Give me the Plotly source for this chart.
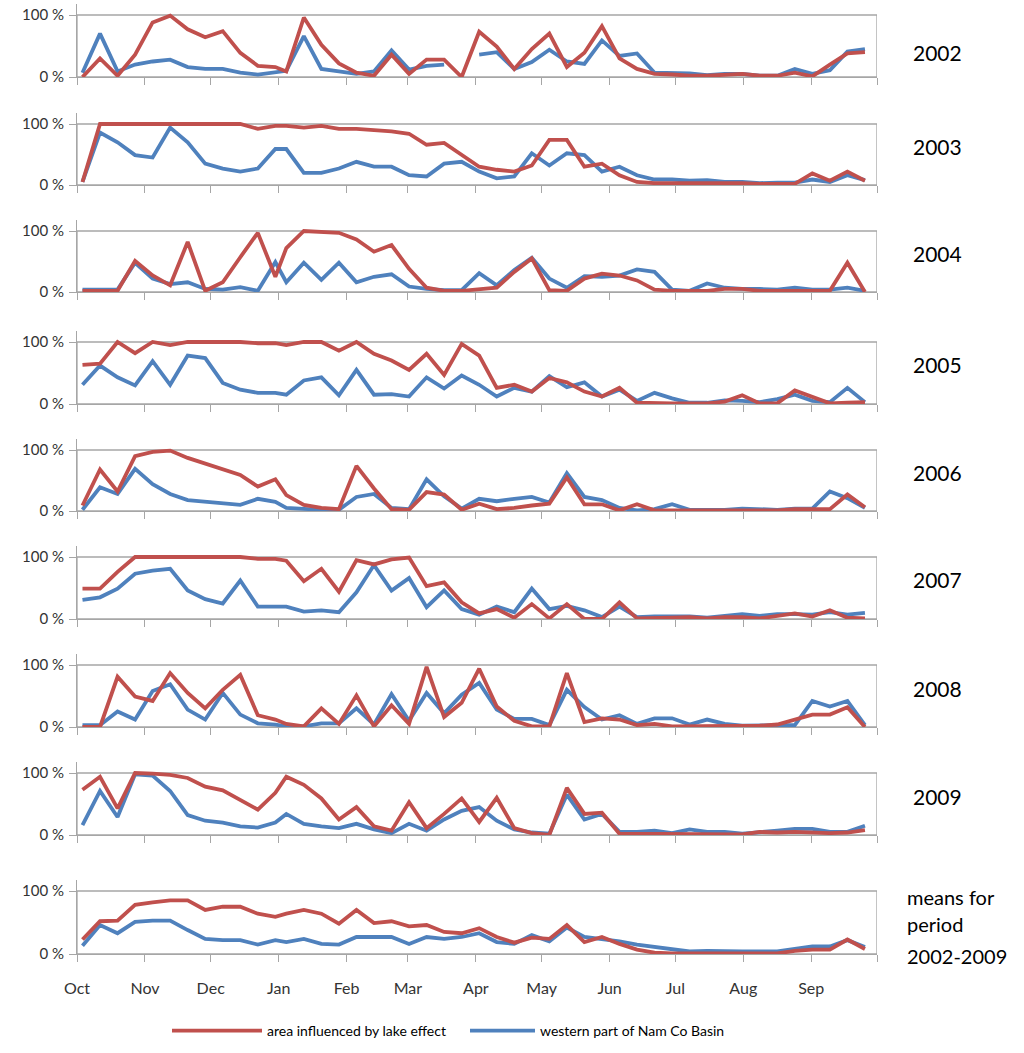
import plotly.graph_objects as go

# ---------------- data ----------------
panel_names = ["2002", "2003", "2004", "2005", "2006", "2007", "2008", "2009", "means"]

# 8-day composite start (day of year), hydrological year Oct -> Sep
composite_doy = list(range(273, 362, 8)) + list(range(1, 266, 8))

month_ticks = [0, 31, 61, 92, 123, 151, 182, 212, 243, 273, 304, 335, 365]
month_labels = ["Oct", "Nov", "Dec", "Jan", "Feb", "Mar", "Apr", "May", "Jun", "Jul", "Aug", "Sep", ""]

lake_2002 = [0.00, 0.30, 0.02, 0.36, 0.88, 0.99, 0.77, 0.64, 0.74, 0.39, 0.18, 0.16, 0.09, 0.96, 0.52, 0.22,
             0.07, 0.02, 0.36, 0.05, 0.28, 0.28, 0.00, 0.73, 0.49, 0.13, 0.45, 0.70, 0.16, 0.39, 0.82, 0.30,
             0.13, 0.05, 0.04, 0.02, 0.02, 0.03, 0.05, 0.02, 0.02, 0.07, 0.01, 0.20, 0.38, 0.40]
west_2002 = [0.07, 0.70, 0.09, 0.20, 0.25, 0.28, 0.16, 0.13, 0.13, 0.07, 0.04, 0.07, 0.10, 0.66, 0.13, 0.09,
             0.05, 0.09, 0.43, 0.12, 0.18, 0.20, None, 0.36, 0.40, 0.13, 0.24, 0.44, 0.25, 0.21, 0.59, 0.34,
             0.38, 0.07, 0.06, 0.06, 0.03, 0.05, 0.05, 0.02, 0.02, 0.13, 0.05, 0.11, 0.41, 0.45]

lake_2003 = [0.05, 1.00, 1.00, 1.00, 1.00, 1.00, 1.00, 1.00, 1.00, 1.00, 0.92, 0.97, 0.97, 0.94, 0.97, 0.92,
             0.92, 0.90, 0.88, 0.84, 0.66, 0.69, 0.49, 0.30, 0.25, 0.22, 0.32, 0.74, 0.74, 0.30, 0.35, 0.16,
             0.05, 0.03, 0.03, 0.03, 0.04, 0.03, 0.03, 0.02, 0.02, 0.02, 0.19, 0.07, 0.22, 0.07]
west_2003 = [0.05, 0.86, 0.70, 0.49, 0.45, 0.94, 0.70, 0.35, 0.27, 0.22, 0.27, 0.59, 0.59, 0.20, 0.20, 0.27,
             0.38, 0.30, 0.30, 0.16, 0.14, 0.35, 0.38, 0.22, 0.11, 0.14, 0.52, 0.32, 0.52, 0.49, 0.22, 0.30,
             0.16, 0.09, 0.09, 0.07, 0.08, 0.05, 0.05, 0.03, 0.04, 0.04, 0.09, 0.05, 0.16, 0.08]

lake_2004 = [0.02, 0.02, 0.02, 0.51, 0.27, 0.11, 0.82, 0.02, 0.16, 0.57, 0.97, 0.25, 0.72, 1.00, 0.98, 0.97,
             0.86, 0.66, 0.77, 0.38, 0.07, 0.02, 0.02, 0.04, 0.07, 0.33, 0.55, 0.03, 0.02, 0.22, 0.30, 0.27,
             0.19, 0.04, 0.02, 0.02, 0.02, 0.05, 0.05, 0.02, 0.02, 0.03, 0.02, 0.02, 0.48, 0.00]
west_2004 = [0.04, 0.04, 0.04, 0.48, 0.22, 0.13, 0.16, 0.05, 0.04, 0.08, 0.02, 0.49, 0.16, 0.48, 0.20, 0.48,
             0.16, 0.25, 0.29, 0.09, 0.05, 0.03, 0.03, 0.31, 0.11, 0.36, 0.56, 0.22, 0.07, 0.26, 0.25, 0.27,
             0.37, 0.33, 0.04, 0.02, 0.14, 0.07, 0.05, 0.05, 0.04, 0.07, 0.04, 0.04, 0.07, 0.02]

lake_2005 = [0.63, 0.65, 1.00, 0.82, 1.00, 0.95, 1.00, 1.00, 1.00, 1.00, 0.98, 0.98, 0.95, 1.00, 1.00, 0.86,
             1.00, 0.81, 0.70, 0.55, 0.81, 0.47, 0.97, 0.78, 0.26, 0.31, 0.20, 0.42, 0.35, 0.20, 0.12, 0.26,
             0.02, 0.01, 0.01, 0.01, 0.01, 0.04, 0.14, 0.01, 0.01, 0.22, 0.12, 0.01, 0.02, 0.03]
west_2005 = [0.31, 0.62, 0.43, 0.30, 0.69, 0.31, 0.78, 0.74, 0.34, 0.23, 0.18, 0.18, 0.15, 0.38, 0.43, 0.14,
             0.55, 0.15, 0.16, 0.12, 0.43, 0.25, 0.46, 0.31, 0.12, 0.26, 0.20, 0.45, 0.27, 0.35, 0.12, 0.23,
             0.05, 0.18, 0.09, 0.02, 0.02, 0.06, 0.05, 0.03, 0.08, 0.15, 0.05, 0.03, 0.26, 0.03]

lake_2006 = [0.09, 0.68, 0.32, 0.90, 0.97, 0.99, 0.87, 0.78, 0.69, 0.59, 0.40, 0.52, 0.26, 0.10, 0.05, 0.03,
             0.74, 0.37, 0.03, 0.02, 0.31, 0.27, 0.02, 0.12, 0.03, 0.05, 0.09, 0.12, 0.55, 0.11, 0.11, 0.01,
             0.11, 0.01, 0.01, 0.01, 0.01, 0.01, 0.02, 0.01, 0.01, 0.03, 0.03, 0.03, 0.27, 0.06]
west_2006 = [0.02, 0.39, 0.28, 0.69, 0.44, 0.28, 0.18, 0.15, 0.12, 0.10, 0.20, 0.15, 0.05, 0.03, 0.02, 0.02,
             0.23, 0.28, 0.05, 0.03, 0.52, 0.24, 0.04, 0.20, 0.16, 0.20, 0.23, 0.14, 0.62, 0.23, 0.18, 0.05,
             0.01, 0.03, 0.11, 0.02, 0.02, 0.02, 0.04, 0.03, 0.02, 0.04, 0.04, 0.32, 0.21, 0.05]

lake_2007 = [0.49, 0.49, 0.76, 1.00, 1.00, 1.00, 1.00, 1.00, 1.00, 1.00, 0.97, 0.97, 0.94, 0.61, 0.81, 0.44,
             0.95, 0.88, 0.96, 0.99, 0.53, 0.59, 0.27, 0.09, 0.16, 0.02, 0.24, 0.01, 0.24, 0.00, 0.00, 0.27,
             0.01, 0.01, 0.02, 0.03, 0.01, 0.03, 0.03, 0.01, 0.05, 0.09, 0.04, 0.14, 0.02, 0.01]
west_2007 = [0.31, 0.35, 0.49, 0.73, 0.78, 0.81, 0.46, 0.32, 0.25, 0.62, 0.20, 0.20, 0.20, 0.12, 0.14, 0.11,
             0.43, 0.87, 0.46, 0.66, 0.19, 0.46, 0.16, 0.07, 0.20, 0.11, 0.49, 0.16, 0.21, 0.14, 0.03, 0.20,
             0.03, 0.04, 0.04, 0.04, 0.02, 0.05, 0.08, 0.05, 0.08, 0.08, 0.07, 0.11, 0.07, 0.10]

lake_2008 = [0.00, 0.00, 0.81, 0.49, 0.42, 0.87, 0.55, 0.30, 0.60, 0.84, 0.19, 0.12, 0.05, 0.01, 0.30, 0.05,
             0.51, 0.01, 0.35, 0.05, 0.97, 0.16, 0.39, 0.94, 0.33, 0.10, 0.01, 0.01, 0.87, 0.08, 0.14, 0.12,
             0.03, 0.05, 0.01, 0.01, 0.01, 0.01, 0.01, 0.02, 0.04, 0.12, 0.20, 0.20, 0.32, 0.00]
west_2008 = [0.03, 0.03, 0.25, 0.12, 0.58, 0.69, 0.28, 0.12, 0.55, 0.20, 0.06, 0.04, 0.01, 0.01, 0.06, 0.06,
             0.30, 0.04, 0.53, 0.10, 0.55, 0.22, 0.52, 0.71, 0.28, 0.13, 0.13, 0.03, 0.60, 0.32, 0.12, 0.19,
             0.05, 0.14, 0.14, 0.04, 0.12, 0.05, 0.02, 0.03, 0.03, 0.03, 0.42, 0.33, 0.42, 0.03]

lake_2009 = [0.73, 0.94, 0.43, 1.00, 0.99, 0.97, 0.92, 0.78, 0.72, 0.57, 0.41, 0.68, 0.94, 0.81, 0.59, 0.25,
             0.45, 0.14, 0.07, 0.53, 0.11, 0.34, 0.59, 0.21, 0.60, 0.11, 0.03, 0.00, 0.76, 0.34, 0.36, 0.02,
             0.02, 0.02, 0.01, 0.01, 0.01, 0.02, 0.01, 0.05, 0.04, 0.05, 0.04, 0.03, 0.04, 0.08]
west_2009 = [0.16, 0.71, 0.29, 0.98, 0.96, 0.71, 0.32, 0.23, 0.20, 0.14, 0.12, 0.20, 0.34, 0.18, 0.14, 0.11,
             0.18, 0.09, 0.03, 0.18, 0.07, 0.25, 0.39, 0.45, 0.23, 0.09, 0.04, 0.02, 0.65, 0.25, 0.34, 0.05,
             0.05, 0.07, 0.03, 0.09, 0.05, 0.05, 0.02, 0.04, 0.07, 0.10, 0.10, 0.05, 0.05, 0.15]

lake_mean = [0.23, 0.52, 0.53, 0.78, 0.82, 0.85, 0.85, 0.70, 0.75, 0.75, 0.64, 0.59, 0.64, 0.70, 0.64, 0.48,
             0.70, 0.49, 0.52, 0.44, 0.46, 0.35, 0.33, 0.41, 0.27, 0.18, 0.26, 0.24, 0.46, 0.19, 0.27, 0.16,
             0.07, 0.02, 0.01, 0.01, 0.01, 0.01, 0.01, 0.01, 0.01, 0.05, 0.07, 0.07, 0.23, 0.08]
west_mean = [0.13, 0.46, 0.33, 0.51, 0.53, 0.53, 0.38, 0.24, 0.22, 0.22, 0.15, 0.22, 0.19, 0.24, 0.16, 0.15,
             0.27, 0.27, 0.27, 0.16, 0.27, 0.24, 0.27, 0.33, 0.19, 0.16, 0.30, 0.20, 0.42, 0.27, 0.24, 0.20,
             0.15, 0.11, 0.08, 0.04, 0.05, 0.04, 0.04, 0.04, 0.04, 0.08, 0.12, 0.12, 0.22, 0.11]

lake_series = [lake_2002, lake_2003, lake_2004, lake_2005, lake_2006, lake_2007, lake_2008, lake_2009, lake_mean]
west_series = [west_2002, west_2003, west_2004, west_2005, west_2006, west_2007, west_2008, west_2009, west_mean]

lake_name = "area influenced by lake effect"
west_name = "western part of Nam Co Basin"

# ---------------- layout constants ----------------
W, H = 1024, 1053
RED = "#C0504D"
BLUE = "#4F81BD"
GRID = "#A6A6A6"
FONT = "Lato"

# pixel rows of the 100 % and 0 % lines for each panel
top_px = [15, 124, 231, 342, 450, 557, 665, 773, 891]
zero_px = [77, 185, 292, 404, 511, 619, 727, 835, 954]
ext_px = 11  # axis line extends above 100 %

# day offset (since Oct 1) of the centre of each composite
x_days = [(d - 274 if d >= 273 else d + 91) + 3.5 for d in composite_doy]

fig = go.Figure()
shapes = []
layout = {}
n = len(panel_names)
for k in range(n):
    ax = "" if k == 0 else str(k + 1)
    span = zero_px[k] - top_px[k]
    ymax = 1 + ext_px / span
    layout["yaxis" + ax] = dict(
        domain=[1 - zero_px[k] / H, 1 - (top_px[k] - ext_px) / H],
        range=[0, ymax], anchor="x" + ax, automargin=False,
        tickvals=[0, 1], ticktext=["0 %", "100 %"],
        ticks="outside", ticklen=7, tickcolor=GRID, tickwidth=1,
        showline=True, linecolor=GRID, linewidth=1,
        showgrid=False, zeroline=False, fixedrange=True,
        ticklabelstandoff=2,
        tickfont=dict(family=FONT, size=15, color="#333333"),
    )
    layout["xaxis" + ax] = dict(
        domain=[77 / W, 877 / W], range=[0, 365], anchor="y" + ax, automargin=False,
        tickvals=month_ticks, ticktext=month_labels,
        showticklabels=(k == n - 1),
        ticks="outside", ticklen=7, tickcolor=GRID, tickwidth=1,
        showline=True, linecolor=GRID, linewidth=1,
        showgrid=False, zeroline=False, fixedrange=True,
        ticklabelstandoff=13,
        tickfont=dict(family=FONT, size=16, color="#333333"),
    )
    shapes.append(dict(type="rect", xref="x" + ax, yref="y" + ax, x0=0, x1=365, y0=0, y1=1,
                       line=dict(color=GRID, width=1.3), layer="below"))
    fig.add_trace(go.Scatter(x=x_days, y=west_series[k], mode="lines", name=west_name,
                             line=dict(color=BLUE, width=3.8), xaxis="x" + ax, yaxis="y" + ax,
                             showlegend=(k == 0), legend="legend2", connectgaps=False, hoverinfo="skip"))
    fig.add_trace(go.Scatter(x=x_days, y=lake_series[k], mode="lines", name=lake_name,
                             line=dict(color=RED, width=3.8), xaxis="x" + ax, yaxis="y" + ax,
                             showlegend=(k == 0), legend="legend", hoverinfo="skip"))

annotations = []
label_y = [52, 146, 253, 364, 472, 579, 688, 796]
for k in range(8):
    annotations.append(dict(text=panel_names[k], xref="paper", yref="paper",
                            x=937 / W, y=1 - label_y[k] / H, xanchor="center", yanchor="middle",
                            showarrow=False, font=dict(family=FONT, size=21, color="#000000")))
means_lines = ["means for", "period", "2002-2009"]
means_y = [897, 924, 956]
for txt, yy in zip(means_lines, means_y):
    annotations.append(dict(text=txt, xref="paper", yref="paper",
                            x=905 / W, y=1 - yy / H, xanchor="left", yanchor="middle",
                            showarrow=False, font=dict(family=FONT, size=20, color="#000000")))

legend_common = dict(orientation="h", yanchor="top", xanchor="left",
                     font=dict(family=FONT, size=14, color="#000000"),
                     itemclick=False, itemdoubleclick=False, bgcolor="rgba(0,0,0,0)")

fig.update_layout(
    width=W, height=H,
    margin=dict(l=0, r=0, t=0, b=0, autoexpand=False),
    paper_bgcolor="white", plot_bgcolor="white",
    shapes=shapes, annotations=annotations,
    legend=dict(x=167 / W, y=1 - 1015 / H, itemwidth=90, **legend_common),
    legend2=dict(x=465 / W, y=1 - 1015 / H, itemwidth=65, **legend_common),
    **layout,
)

fig.write_html("out.html", config={"displayModeBar": False},
               post_script="document.body.style.margin='0px';")
